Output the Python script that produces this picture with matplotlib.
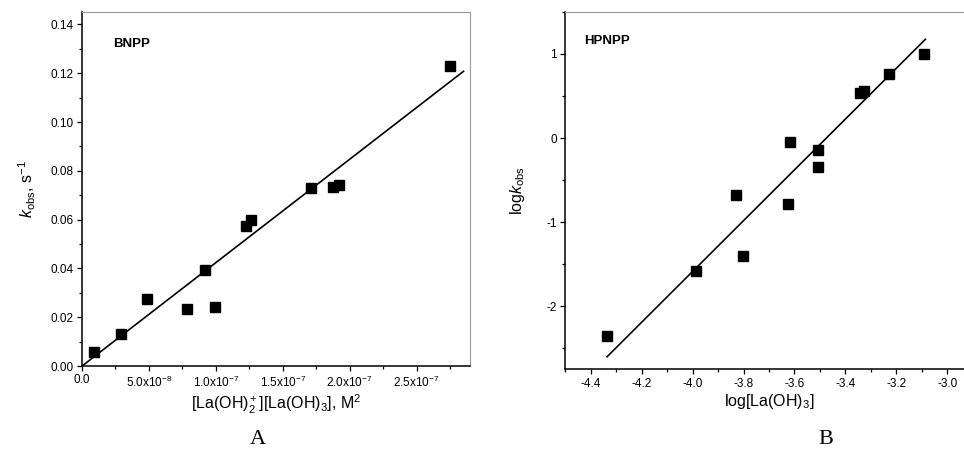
import matplotlib
matplotlib.use('Agg')
import matplotlib.pyplot as plt
from matplotlib.ticker import MultipleLocator, FixedLocator

plt.rcParams['font.family'] = ['Liberation Sans', 'DejaVu Sans']
plt.rcParams['mathtext.fontset'] = 'custom'
plt.rcParams['mathtext.rm'] = 'Liberation Sans'
plt.rcParams['mathtext.it'] = 'Liberation Sans:italic'
plt.rcParams['mathtext.bf'] = 'Liberation Sans:bold'

# Panel A: BNPP
bnpp_x = [9e-9, 2.9e-8, 4.83e-8, 7.86e-8, 9.18e-8, 9.93e-8,
          1.224e-7, 1.266e-7, 1.709e-7, 1.876e-7, 1.918e-7, 2.751e-7]
bnpp_k = [0.0057, 0.0131, 0.0276, 0.0235, 0.0393, 0.0243,
          0.0573, 0.0598, 0.0730, 0.0734, 0.0741, 0.1231]
bnpp_fit_x = [0.0, 2.851e-7]
bnpp_fit_y = [0.0, 0.1208]
bnpp_xticks = [0.0, 5e-8, 1e-7, 1.5e-7, 2e-7, 2.5e-7]
bnpp_xticklabels = ['0.0', '5.0x10$^{-8}$', '1.0x10$^{-7}$', '1.5x10$^{-7}$',
                    '2.0x10$^{-7}$', '2.5x10$^{-7}$']

# Panel B: HPNPP
hpnpp_x = [-4.336, -3.985, -3.828, -3.802, -3.626, -3.617,
           -3.507, -3.507, -3.344, -3.327, -3.227, -3.090]
hpnpp_logk = [-2.352, -1.581, -0.680, -1.399, -0.779, -0.043,
              -0.138, -0.348, 0.538, 0.565, 0.763, 1.000]
hpnpp_fit_x = [-4.336, -3.086]
hpnpp_fit_y = [-2.601, 1.174]

fig = plt.figure(figsize=(9.64, 4.53), dpi=100)
ax1 = fig.add_axes([0.0851, 0.192, 0.402, 0.781])
ax2 = fig.add_axes([0.5864, 0.1848, 0.4227, 0.789])

for ax in (ax1, ax2):
    ax.spines['top'].set_color('#999999')
    ax.spines['right'].set_color('#999999')
    ax.spines['left'].set_linewidth(1.1)
    ax.spines['bottom'].set_linewidth(1.1)
    ax.tick_params(which='major', direction='out', length=3.5, width=0.9,
                   labelsize=8.5, pad=2.5)
    ax.tick_params(which='minor', direction='out', length=2, width=0.9)

# --- A ---
ax1.plot(bnpp_fit_x, bnpp_fit_y, color='black', lw=1.2, zorder=2)
ax1.plot(bnpp_x, bnpp_k, 's', color='black', ms=6.5, zorder=3)
ax1.set_xlim(0, 2.896e-7)
ax1.set_ylim(0, 0.145)
ax1.xaxis.set_major_locator(FixedLocator(bnpp_xticks))
ax1.set_xticklabels(bnpp_xticklabels)
ax1.xaxis.set_minor_locator(MultipleLocator(2.5e-8))
ax1.yaxis.set_major_locator(MultipleLocator(0.02))
ax1.yaxis.set_minor_locator(MultipleLocator(0.01))
ax1.yaxis.set_major_formatter(plt.FormatStrFormatter('%.2f'))
ax1.text(2.3e-8, 0.132, 'BNPP', fontsize=9.5, fontweight='bold', va='center')
ax1.set_xlabel('[La(OH)$_2^+$][La(OH)$_3$], M$^2$', fontsize=11.5, labelpad=2)
ax1.set_ylabel('$k_{\\mathrm{obs}}$, s$^{-1}$', fontsize=11.5, labelpad=9)

# --- B ---
ax2.plot(hpnpp_fit_x, hpnpp_fit_y, color='black', lw=1.2, zorder=2)
ax2.plot(hpnpp_x, hpnpp_logk, 's', color='black', ms=6.5, zorder=3)
ax2.set_xlim(-4.5, -2.9)
ax2.set_ylim(-2.75, 1.5)
ax2.xaxis.set_major_locator(MultipleLocator(0.2))
ax2.xaxis.set_minor_locator(MultipleLocator(0.1))
ax2.xaxis.set_major_formatter(plt.FormatStrFormatter('%.1f'))
ax2.yaxis.set_major_locator(MultipleLocator(1))
ax2.yaxis.set_minor_locator(MultipleLocator(0.5))
ax2.yaxis.set_major_formatter(plt.FormatStrFormatter('%d'))
ax2.text(-4.427, 1.15, 'HPNPP', fontsize=9.5, fontweight='bold', va='center')
ax2.set_xlabel('log[La(OH)$_3$]', fontsize=11.5, labelpad=2)
ax2.set_ylabel('log$k_{\\mathrm{obs}}$', fontsize=11.5, labelpad=14)

fig.text(258 / 964, 1 - 440 / 453, 'A', family='Liberation Serif',
         fontsize=16, ha='center', va='center')
fig.text(826 / 964, 1 - 440 / 453, 'B', family='Liberation Serif',
         fontsize=16, ha='center', va='center')

fig.savefig('out.png', dpi=100)
